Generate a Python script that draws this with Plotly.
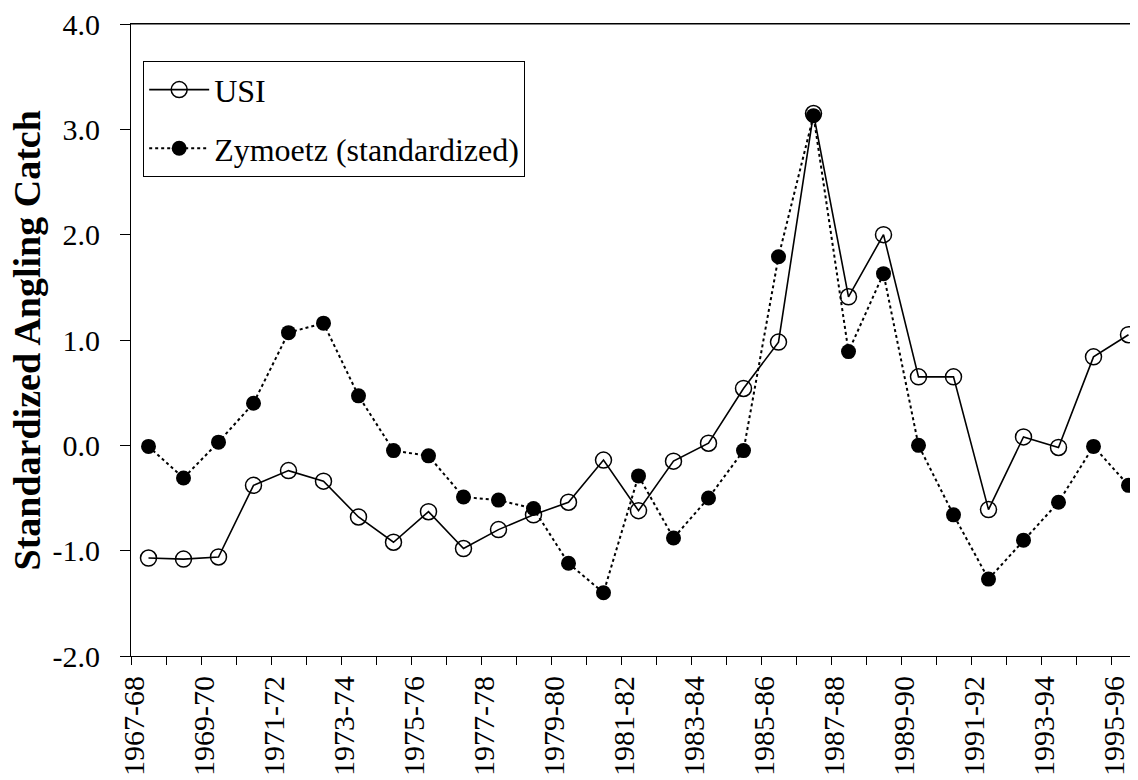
import plotly.graph_objects as go

seasons = [f"{y}-{str(y + 1)[2:]}" for y in range(1967, 1996)]

usi = [-1.07, -1.08, -1.06, -0.38, -0.24, -0.34, -0.68, -0.92, -0.63, -0.98,
       -0.80, -0.66, -0.54, -0.14, -0.62, -0.15, 0.02, 0.54, 0.98, 3.15,
       1.41, 2.00, 0.65, 0.65, -0.61, 0.08, -0.02, 0.84, 1.05]

zymoetz = [-0.01, -0.31, 0.03, 0.40, 1.07, 1.16, 0.47, -0.05, -0.10, -0.49,
           -0.52, -0.60, -1.12, -1.40, -0.29, -0.88, -0.50, -0.05, 1.79, 3.13,
           0.89, 1.63, 0.00, -0.66, -1.27, -0.90, -0.54, -0.01, -0.38]

y_ticks = [-2, -1, 0, 1, 2, 3, 4]
y_tick_labels = ["-2.0", "-1.0", "0.0", "1.0", "2.0", "3.0", "4.0"]

# only every other season gets a label
x_tick_labels = [s if i % 2 == 0 else "" for i, s in enumerate(seasons)]

FONT = "Liberation Serif"

fig = go.Figure()
fig.add_trace(
    go.Scatter(
        x=seasons, y=usi,
        name="USI",
        mode="lines+markers",
        line=dict(color="black", width=1.6),
        marker=dict(symbol="circle-open", size=16, color="black", line=dict(width=1.5)),
        legendgroup="usi",
    )
)
fig.add_trace(
    go.Scatter(
        x=seasons, y=zymoetz,
        name="Zymoetz (standardized)",
        mode="lines+markers",
        line=dict(color="black", width=2, dash="dot"),
        marker=dict(symbol="circle", size=15, color="black"),
        legendgroup="zym",
    )
)

# top border of the plot area
fig.add_shape(type="line", xref="paper", yref="paper", x0=0, x1=1, y0=1, y1=1,
              line=dict(color="black", width=1.2), layer="above")

# y axis title as an annotation so it sits where the scan has it
fig.add_annotation(
    text="<b>Standardized Angling Catch</b>",
    xref="paper", yref="paper", x=-0.102, y=0.5,
    xanchor="center", yanchor="middle", textangle=-90,
    showarrow=False, font=dict(family=FONT, size=38, color="black"),
)

# the page body has an 8px margin, so the figure is offset by that much;
# the right edge of the plot ends up just past the window, as in the scan
fig.update_layout(
    width=1138, height=780,
    margin=dict(l=123, r=0, t=16, b=132),
    paper_bgcolor="white",
    plot_bgcolor="white",
    font=dict(family=FONT, color="black", size=30),
    showlegend=True,
    legend=dict(
        x=0.012, y=0.941, xanchor="left", yanchor="top",
        bordercolor="black", borderwidth=1, bgcolor="white",
        font=dict(family=FONT, size=32, color="black"),
        traceorder="grouped", tracegroupgap=14,
        itemwidth=60,
    ),
    xaxis=dict(
        type="category",
        range=[-0.5, len(seasons) - 0.5],
        autorange=False,
        automargin=False,
        tickmode="array", tickvals=seasons, ticktext=x_tick_labels,
        tickson="boundaries",
        ticks="outside", ticklen=8, tickcolor="black", tickwidth=1,
        tickangle=-90,
        ticklabelshift=-14,
        ticklabelstandoff=7,
        showline=True, linecolor="black", linewidth=1.2, mirror=True,
        showgrid=False, zeroline=False,
        tickfont=dict(family=FONT, size=30),
    ),
    yaxis=dict(
        range=[-2, 4],
        autorange=False,
        automargin=False,
        tickmode="array", tickvals=y_ticks, ticktext=y_tick_labels,
        ticks="outside", ticklen=10, tickcolor="black", tickwidth=1,
        tickangle=0,
        ticklabelstandoff=14,
        ticklabeloverflow="allow",
        showline=True, linecolor="black", linewidth=1.2,
        showgrid=False, zeroline=False,
        tickfont=dict(family=FONT, size=30),
    ),
)

fig.write_html("out.html")
